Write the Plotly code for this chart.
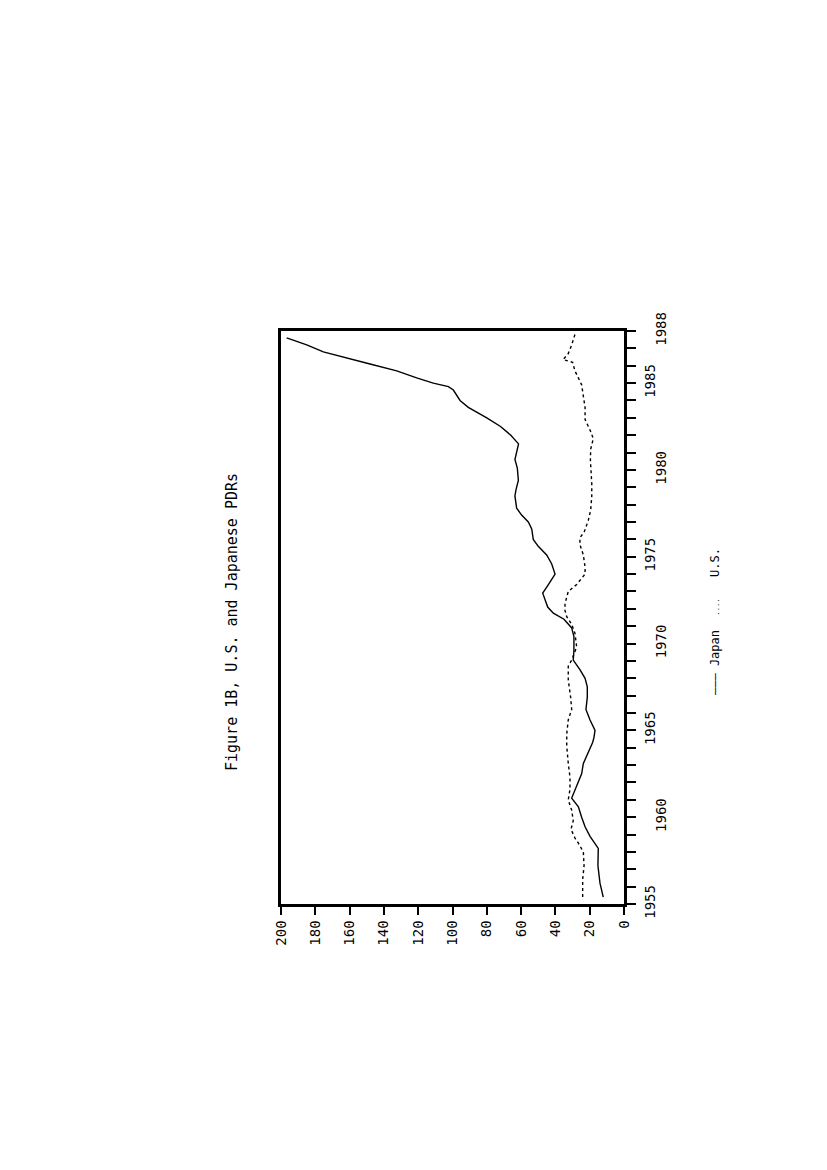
import plotly.graph_objects as go

# ---- data ----
japan_years = [1955.4, 1956.2, 1957.2, 1958.2, 1958.9, 1959.45, 1960.0, 1960.6, 1961.1, 1962.0,
               1962.5, 1963.1, 1963.6, 1964.3, 1964.6, 1965.0, 1965.6, 1966.2, 1966.9, 1967.5,
               1968.0, 1968.5, 1969.05, 1969.6, 1970.4, 1970.9, 1971.4, 1971.75, 1972.1, 1972.5,
               1972.9, 1973.4, 1974.0, 1974.6, 1975.1, 1975.6, 1976.0, 1976.6, 1977.0, 1977.4,
               1977.8, 1978.5, 1978.85, 1979.4, 1980.1, 1980.6, 1981.0, 1981.5, 1982.0, 1982.5,
               1983.0, 1983.3, 1983.6, 1984.0, 1984.6, 1984.8, 1985.0, 1985.3, 1985.7, 1986.1,
               1986.45, 1986.8, 1987.2, 1987.6]
japan = [12.1, 14.0, 15.2, 15.0, 19.8, 22.7, 24.7, 26.6, 30.5, 26.6,
         24.7, 23.7, 21.5, 18.3, 17.5, 16.9, 19.8, 22.2, 21.4, 21.4,
         22.7, 25.7, 29.6, 29.2, 29.2, 30.5, 35.0, 41.2, 44.5, 46.1,
         47.4, 44.1, 40.2, 42.2, 45.1, 50.0, 52.9, 53.8, 55.8, 59.7,
         62.6, 63.6, 63.0, 61.6, 62.2, 63.6, 62.5, 61.5, 66.0, 72.0,
         80.0, 85.0, 90.8, 95.6, 99.5, 102.4, 111.2, 120.9, 132.5, 148.1,
         161.7, 175.3, 185.0, 196.7]

us_years = [1955.4, 1956.4, 1957.2, 1958.0, 1958.5, 1958.8, 1959.3, 1959.8, 1960.4, 1961.0,
            1961.6, 1962.3, 1963.1, 1964.1, 1964.8, 1965.6, 1966.2, 1966.9, 1967.9, 1968.7,
            1969.05, 1969.8, 1970.6, 1971.1, 1971.55, 1971.9, 1972.3, 1973.0, 1973.4, 1974.0,
            1974.4, 1975.1, 1975.7, 1976.1, 1976.4, 1977.1, 1977.7, 1978.5, 1979.2, 1980.0,
            1980.6, 1981.2, 1981.8, 1982.3, 1982.9, 1983.6, 1984.1, 1984.9, 1985.3, 1985.7,
            1986.2, 1986.35, 1986.7, 1987.2, 1987.8]
us = [24.1, 24.1, 23.3, 23.7, 26.6, 28.6, 30.9, 29.6, 30.5, 32.5,
      31.5, 31.5, 32.5, 33.4, 33.4, 32.5, 30.5, 31.1, 32.5, 32.5,
      30.5, 27.6, 28.6, 30.5, 33.4, 34.4, 34.4, 32.5, 27.6, 22.7,
      22.7, 23.7, 25.7, 25.7, 23.3, 20.8, 19.4, 18.8, 18.8, 19.2,
      19.6, 19.4, 17.9, 19.8, 22.7, 22.7, 23.3, 24.7, 26.6, 28.6,
      30.0, 35.5, 32.5, 30.5, 28.6]

value_ticks = [0, 20, 40, 60, 80, 100, 120, 140, 160, 180, 200]
year_ticks_near = [1955, 1965, 1975, 1985]
year_ticks_far = [1960, 1970, 1980, 1988]

title_text = "Figure 1B, U.S. and Japanese PDRs"
legend_text = ("———&#160;Japan&#160;&#160;"
               "<span style='font-size:7px'>....</span>"
               "&#160;&#160;&#160;U.S.")

W, H = 827, 1170
OFF = 8  # page body offset in the browser
MONO = "DejaVu Sans Mono"

fig = go.Figure()
fig.add_trace(go.Scatter(x=japan, y=japan_years, mode="lines", name="Japan",
                         line=dict(color="black", width=1.4)))
fig.add_trace(go.Scatter(x=us, y=us_years, mode="lines", name="U.S.",
                         line=dict(color="black", width=1.4, dash="dot")))
# invisible trace to activate yaxis2 (second row of staggered year labels)
fig.add_trace(go.Scatter(x=[None], y=[None], yaxis="y2", showlegend=False, hoverinfo="skip"))

x0, x1 = (281 - OFF) / W, (624 - OFF) / W
y0, y1 = 1 - (904 - OFF) / H, 1 - (331 - OFF) / H

fig.update_layout(
    width=W, height=H, autosize=False,
    margin=dict(l=0, r=0, t=0, b=0, pad=0, autoexpand=False),
    paper_bgcolor="white", plot_bgcolor="white",
    showlegend=False,
    font=dict(family=MONO, color="black"),
    xaxis=dict(
        domain=[x0, x1], range=[200, 0], tickmode="array", tickvals=value_ticks,
        ticks="outside", ticklen=8, tickwidth=1.5, tickcolor="black",
        tickangle=-90, tickfont=dict(family=MONO, size=14, color="black"),
        showline=True, linewidth=2.5, linecolor="black", mirror=True,
        showgrid=False, zeroline=False, automargin=False,
    ),
    yaxis=dict(
        domain=[y0, y1], range=[1955, 1988], side="right",
        tickmode="array", tickvals=year_ticks_near,
        ticks="outside", ticklen=9, tickwidth=1.5, tickcolor="black",
        tickangle=-90, tickfont=dict(family=MONO, size=14, color="black"),
        ticklabelstandoff=2,
        minor=dict(tickmode="linear", tick0=1955, dtick=1, ticks="outside",
                   ticklen=9, tickwidth=1.5, tickcolor="black", showgrid=False),
        showline=True, linewidth=2.5, linecolor="black", mirror=True,
        showgrid=False, zeroline=False, automargin=False,
    ),
    yaxis2=dict(
        overlaying="y", side="right", range=[1955, 1988], anchor="x",
        tickmode="array", tickvals=year_ticks_far,
        ticks="", tickangle=-90, tickfont=dict(family=MONO, size=14, color="black"),
        ticklabelstandoff=27,
        showline=False, showgrid=False, zeroline=False, automargin=False,
    ),
)

fig.add_annotation(text=title_text, xref="paper", yref="paper",
                   x=(232 - OFF) / W, y=1 - (622 - OFF) / H,
                   xanchor="center", yanchor="middle", showarrow=False, textangle=-90,
                   font=dict(family=MONO, size=15, color="black"))
fig.add_annotation(text=legend_text, xref="paper", yref="paper",
                   x=(715 - OFF) / W, y=1 - (622 - OFF) / H,
                   xanchor="center", yanchor="middle", showarrow=False, textangle=-90,
                   font=dict(family=MONO, size=12, color="black"))

fig.write_html("out.html")
